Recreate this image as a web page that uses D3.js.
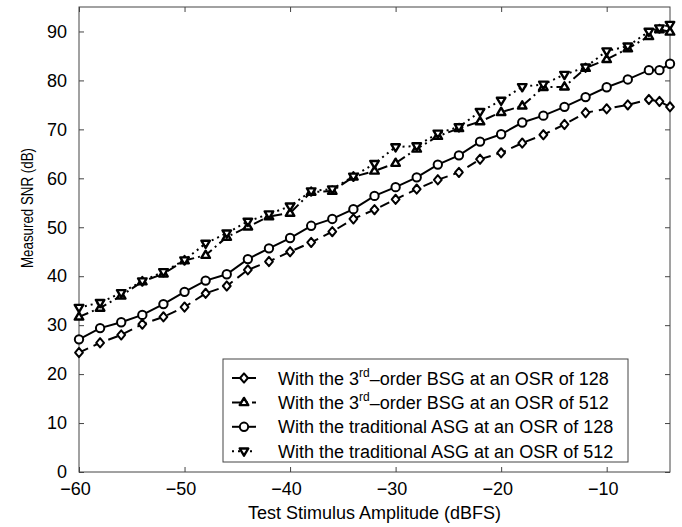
<!DOCTYPE html>
<html><head><meta charset="utf-8">
<script src="https://cdn.jsdelivr.net/npm/d3@7"></script>
<style>
html,body{margin:0;padding:0;background:#fff;}
svg{display:block;}
text{font-family:"Liberation Sans",Arial,Helvetica,sans-serif;fill:#000;}
</style></head>
<body>
<svg id="chart" width="682" height="527"></svg>
<script>
const amplitudes = [-60,-58,-56,-54,-52,-50,-48,-46,-44,-42,-40,-38,-36,-34,-32,-30,-28,-26,-24,-22,-20,-18,-16,-14,-12,-10,-8,-6,-5,-4];
const bsg128 = [24.4,26.4,28.0,30.2,31.7,33.7,36.5,38.0,41.3,43.0,45.0,46.9,49.1,51.7,53.6,55.7,57.8,59.7,61.2,63.9,65.2,67.2,68.9,71.0,73.4,74.2,75.0,76.1,75.7,74.6];
const bsg512 = [31.7,33.5,36.0,38.9,40.5,43.2,44.3,48.0,50.1,52.2,52.9,57.2,57.4,60.3,61.5,63.1,66.0,68.6,70.2,71.6,73.5,74.8,78.6,78.7,82.5,84.3,86.5,89.0,90.4,89.9];
const asg128 = [27.1,29.4,30.6,32.1,34.3,36.8,39.1,40.4,43.5,45.7,47.8,50.3,51.7,53.7,56.4,58.2,60.2,62.8,64.7,67.5,69.0,71.4,72.8,74.6,76.6,78.6,80.2,82.1,82.1,83.4];
const asg512 = [33.6,34.6,36.6,39.0,40.9,43.3,46.7,48.8,51.2,52.7,54.3,57.4,57.8,60.4,63.0,66.4,66.6,69.2,70.5,73.6,75.9,78.7,79.2,81.2,82.7,86.0,87.0,90.0,90.7,91.4];
const xTicks = [-60,-50,-40,-30,-20,-10];
const yTicks = [0,10,20,30,40,50,60,70,80,90];
const seriesNames = [
  ["With the 3","rd","\u2013order BSG at an OSR of 128"],
  ["With the 3","rd","\u2013order BSG at an OSR of 512"],
  ["With the traditional ASG at an OSR of 128"],
  ["With the traditional ASG at an OSR of 512"]
];

const series = [
  {name: seriesNames[0], values: bsg128, marker: "diamond", dash: "10,6"},
  {name: seriesNames[1], values: bsg512, marker: "up", dash: "10,4,2,4"},
  {name: seriesNames[2], values: asg128, marker: "circle", dash: null},
  {name: seriesNames[3], values: asg512, marker: "down", dash: "2,4"}
];

const svg = d3.select("#chart");
const m = {left:79, right:12, top:7, bottom:55};
const W = 682, H = 527;
const x = d3.scaleLinear().domain([-60,-4]).range([m.left, W-m.right]);
const y = d3.scaleLinear().domain([0,95]).range([H-m.bottom, m.top]);
const axisColor = "#444";
const FS = 18;

svg.append("rect").attr("x", x(-60)).attr("y", y(95)).attr("width", x(-4)-x(-60)).attr("height", y(0)-y(95))
  .attr("fill","none").attr("stroke",axisColor).attr("stroke-width",1);

const tl = 5;
const gx = svg.append("g").attr("transform",`translate(0,${y(0)})`)
  .call(d3.axisBottom(x).tickValues(xTicks).tickSize(-tl).tickPadding(10).tickFormat(d=>String(d).replace("-","\u2212")));
gx.select(".domain").remove();
gx.selectAll(".tick line").attr("stroke",axisColor);
gx.selectAll(".tick text").attr("font-size",FS).attr("font-family","Liberation Sans, Arial, sans-serif").attr("fill","#000").attr("dx","-4");
const gxt = svg.append("g").attr("transform",`translate(0,${y(95)})`)
  .call(d3.axisTop(x).tickValues(xTicks).tickSize(-tl).tickFormat(""));
gxt.select(".domain").remove();
gxt.selectAll(".tick line").attr("stroke",axisColor);

const gy = svg.append("g").attr("transform",`translate(${x(-60)},0)`)
  .call(d3.axisLeft(y).tickValues(yTicks).tickSize(-tl).tickPadding(12));
gy.select(".domain").remove();
gy.selectAll(".tick line").attr("stroke",axisColor);
gy.selectAll(".tick text").attr("font-size",FS).attr("font-family","Liberation Sans, Arial, sans-serif").attr("fill","#000");
const gyr = svg.append("g").attr("transform",`translate(${x(-4)},0)`)
  .call(d3.axisRight(y).tickValues(yTicks).tickSize(-tl).tickFormat(""));
gyr.select(".domain").remove();
gyr.selectAll(".tick line").attr("stroke",axisColor);

svg.append("text").attr("x", (x(-60)+x(-4))/2).attr("y", 519).attr("text-anchor","middle")
  .attr("font-size",FS).text("Test Stimulus Amplitude (dBFS)");
svg.append("text").attr("transform",`translate(33,208) rotate(-90)`).attr("text-anchor","middle")
  .attr("font-size",16).attr("textLength",120).attr("lengthAdjust","spacingAndGlyphs").text("Measured SNR (dB)");

function markerPath(type){
  if(type==="diamond"){ const s=4.6; return `M0,${-s}L${s*0.85},0L0,${s}L${-s*0.85},0Z`; }
  if(type==="circle") return d3.symbol().type(d3.symbolCircle).size(55)();
  const s = 4.5;
  if(type==="up") return `M0,${-s}L${s*0.95},${s*0.6}L${-s*0.95},${s*0.6}Z`;
  if(type==="down") return `M0,${s}L${s*0.95},${-s*0.6}L${-s*0.95},${-s*0.6}Z`;
}
const markerStroke = {diamond:2, circle:2, up:2.4, down:2.4};

const line = d3.line().x((d,i)=>x(amplitudes[i])).y(d=>y(d));
const plot = svg.append("g");
series.forEach(s=>{
  const p = plot.append("path").datum(s.values).attr("d", line).attr("fill","none")
    .attr("stroke","#000").attr("stroke-width",2);
  if(s.dash) p.attr("stroke-dasharray", s.dash);
});
series.forEach(s=>{
  plot.selectAll(null).data(s.values).enter().append("path")
    .attr("transform",(d,i)=>`translate(${x(amplitudes[i])},${y(d)})`)
    .attr("d", markerPath(s.marker)).attr("fill","#fff").attr("stroke","#000")
    .attr("stroke-width",markerStroke[s.marker]).attr("stroke-linejoin","round");
});

const lg = svg.append("g");
const lx0 = 223, ly0 = 359, lw = 405, lh = 103;
lg.append("rect").attr("x",lx0).attr("y",ly0).attr("width",lw).attr("height",lh)
  .attr("fill","#fff").attr("stroke",axisColor).attr("stroke-width",1);
series.forEach((s,k)=>{
  const cy = 378 + k*24.4;
  const l = lg.append("line").attr("x1",232).attr("x2",256).attr("y1",cy).attr("y2",cy)
    .attr("stroke","#000").attr("stroke-width",2);
  if(s.dash) l.attr("stroke-dasharray", s.dash);
  lg.append("path").attr("transform",`translate(244,${cy})`).attr("d",markerPath(s.marker))
    .attr("fill","#fff").attr("stroke","#000").attr("stroke-width",markerStroke[s.marker]).attr("stroke-linejoin","round");
  const t = lg.append("text").attr("x",278).attr("y",cy+6.5).attr("font-size",FS);
  if(s.name.length===3){
    t.append("tspan").text(s.name[0]);
    t.append("tspan").attr("font-size",12).attr("dy",-8).text(s.name[1]);
    t.append("tspan").attr("dy",8).text(s.name[2]);
  } else {
    t.text(s.name[0]);
  }
});
</script>
</body></html>
